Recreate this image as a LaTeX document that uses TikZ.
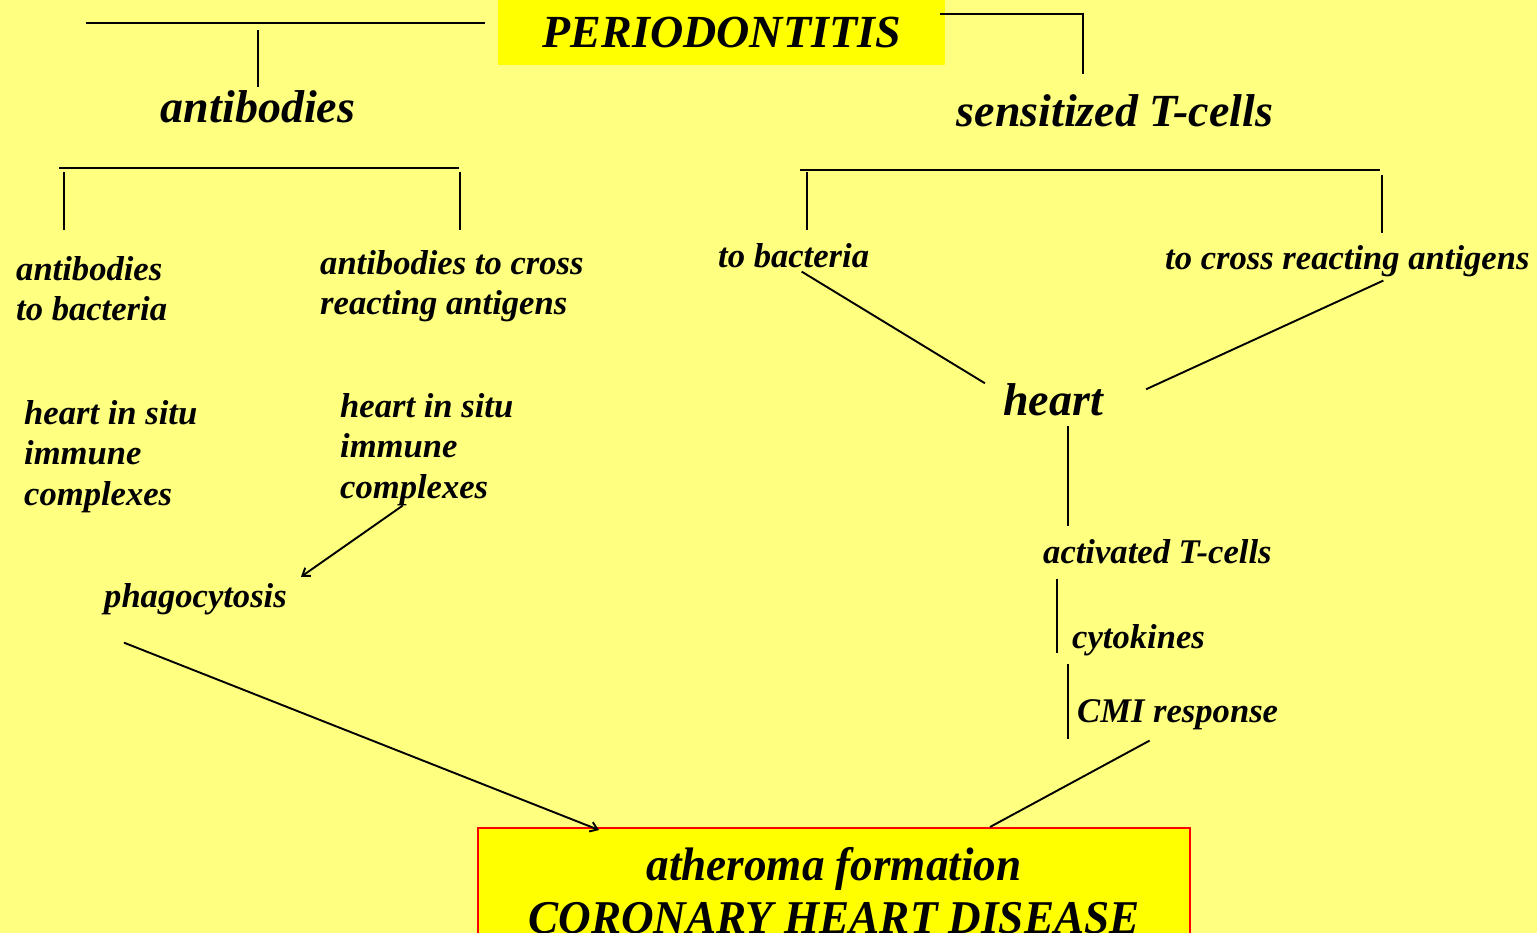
\documentclass[tikz,border=0pt]{standalone}
\usepackage{fontspec}
\setmainfont{Liberation Serif}
\newfontfamily\narrowserif[FakeStretch=0.96]{Liberation Serif}
\usetikzlibrary{arrows.meta,positioning,calc}
\definecolor{paper}{HTML}{FFFF80}
\definecolor{hilite}{HTML}{FFFF00}
\definecolor{rim}{HTML}{FF0000}
\tikzset{
head/.style={font=\fontsize{46}{50}\selectfont\bfseries\itshape,inner sep=0pt},
item/.style={font=\fontsize{34.6}{40.5}\selectfont\bfseries\itshape,align=left,inner sep=0pt,anchor=base west},
ln/.style={line width=1.9pt,draw=black},
arr/.style={ln,-{Straight Barb[length=7pt,width=10pt]}}
}

\begin{document}
\begin{tikzpicture}[x=1pt,y=-1pt]
\fill[paper] (0,0) rectangle (1537,933);
\useasboundingbox (0,0) rectangle (1537,933);
% top level
\node[head,fill=hilite,minimum width=447pt,minimum height=65pt,anchor=north west] (perio) at (498,0) {PERIODONTITIS};
\node[head,anchor=base] (ab) at (258,123) {antibodies};
\node[head,anchor=base] (tcell) at (1115,127) {sensitized T-cells};
\coordinate (abL) at (86,23);
\coordinate (tcR) at (1083,14);
\draw[ln] (abL) -- ([xshift=-13pt]perio.west |- abL);
\draw[ln] ([yshift=4pt]ab.north) -- ([yshift=-7pt]ab.north |- abL);
\draw[ln] ([xshift=-5pt]perio.east |- tcR) -- (tcR) -- ([yshift=21pt]tcR |- tcell.north);
% antibody branch
\node[item] (abbac) at (16,321) {antibodies\\to bacteria};
\node[item] (abcross) at (320,315) {antibodies to cross\\reacting antigens};
\coordinate (lbW) at (59,168);
\coordinate (lbE) at (459,168);
\draw[ln] (lbW) -- (lbE);
\draw[ln] ([xshift=5pt,yshift=-4pt]lbW) -- ++(0,58);
\draw[ln] ([xshift=1pt,yshift=-4pt]lbE) -- ++(0,58);
\node[item] (hisL) at (24,505) {heart in situ\\immune\\complexes};
\node[item] (hisR) at (340,498) {heart in situ\\immune\\complexes};
\node[item] (phago) at (104,607) {phagocytosis};
\draw[arr] ([xshift=-24pt]hisR.south) -- ([xshift=14pt,yshift=6pt]phago.north east);
% T-cell branch
\node[item] (tbac) at (718,268) {to bacteria};
\node[item] (tcross) at (1165,270) {to cross reacting antigens};
\coordinate (rbW) at (800,170);
\coordinate (rbE) at (1380,170);
\draw[ln] (rbW) -- (rbE);
\draw[ln] ([xshift=7pt,yshift=-2pt]rbW) -- ++(0,58);
\draw[ln] ([xshift=2pt,yshift=-5pt]rbE) -- ++(0,58);
\node[head,anchor=base] (heart) at (1053,415) {heart};
\draw[ln] ([xshift=8pt,yshift=-3pt]tbac.south) -- ([xshift=-18pt,yshift=16pt]heart.west);
\draw[ln] ([xshift=36pt,yshift=-3pt]tcross.south) -- ([xshift=43pt,yshift=10pt]heart.east);
\node[item] (act) at (1043,563) {activated T-cells};
\node[item] (cyto) at (1072,648) {cytokines};
\node[item] (cmi) at (1077,722) {CMI response};
\draw[ln] (heart.south) ++(15,10) -- ++(0,100);
\draw[ln] (act.south west) ++(14,15) -- ++(0,74);
\draw[ln] (cyto.south west) ++(-4,8) -- ++(0,75);
% outcome
\node[draw=rim,line width=2pt,fill=hilite,minimum width=712pt,minimum height=125pt,anchor=north,align=center,
  font=\narrowserif\fontsize{47}{53}\selectfont\bfseries\itshape,inner sep=0pt] (chd) at (834,827)
  {atheroma formation\\CORONARY HEART DISEASE};
\draw[arr] ([xshift=20pt,yshift=-28pt]phago.south west) -- ([xshift=122pt,yshift=-3pt]chd.north west);
\draw[ln] ([xshift=-28pt,yshift=-11pt]cmi.south) -- ([xshift=156pt]chd.north);
\end{tikzpicture}
\end{document}
